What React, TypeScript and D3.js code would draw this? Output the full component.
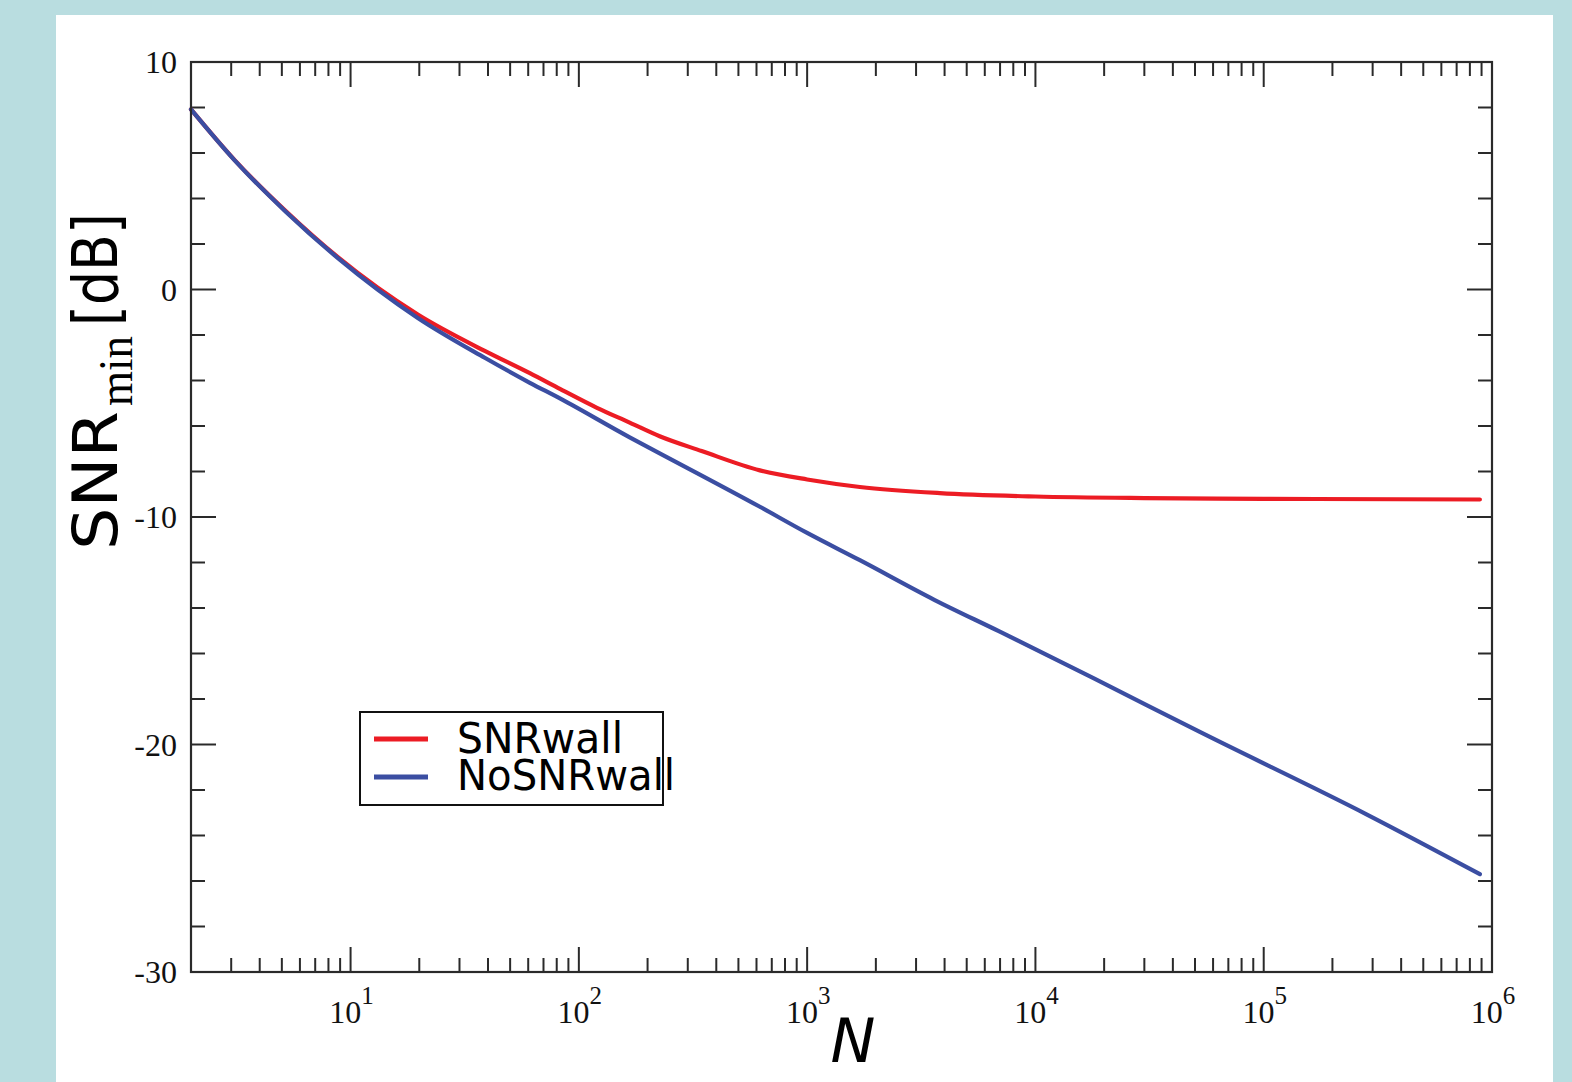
import { useRef, useEffect } from 'react';
import * as d3 from 'd3';

// values (N, SNR_min in dB)
const wallN = [2, 3.1, 5.2, 8.8, 19.7, 38.7, 61, 83, 120, 167, 226, 345, 621, 1000, 1702, 3810, 10000, 30000, 100000, 885000];
const wallDb = [7.92, 5.7, 3.45, 1.42, -1.1, -2.7, -3.68, -4.38, -5.2, -5.85, -6.45, -7.1, -7.95, -8.35, -8.68, -8.95, -9.1, -9.17, -9.2, -9.23];

const noWallN = [2, 3.1, 5.2, 8.8, 19.7, 38.7, 61, 83, 167, 226, 621, 1000, 1702, 3622, 6984, 17950, 52500, 282000, 885000];
const noWallDb = [7.92, 5.69, 3.42, 1.38, -1.25, -3.0, -4.1, -4.8, -6.5, -7.2, -9.55, -10.7, -11.9, -13.65, -15.04, -17.08, -19.45, -23.07, -25.7];

const seriesNames = ['SNRwall', 'NoSNRwall'];
const seriesColors = ['#ec1c24', '#3b4ea2'];

const yMajor = [-30, -20, -10, 0, 10];
const xExponents = [1, 2, 3, 4, 5, 6];

const W = 1572;
const H = 1082;

const App = () => {
    const svgRef = useRef<SVGSVGElement | null>(null);

    useEffect(() => {
        const svg = d3.select(svgRef.current);
        svg.selectAll('*').remove();

        const left = 191, right = 1492, top = 62, bottom = 972;
        const x = d3.scaleLog().domain([2, 1e6]).range([left, right]);
        const y = d3.scaleLinear().domain([-30, 10]).range([bottom, top]);

        // page background + white panel
        svg.append('rect').attr('width', W).attr('height', H).attr('fill', '#b9dde0');
        svg.append('rect').attr('x', 56).attr('y', 15).attr('width', 1497).attr('height', H - 15).attr('fill', '#fff');

        const ink = '#2a2a2a';

        // ticks (inward, on all four sides)
        const ticks = svg.append('g').attr('stroke', ink).attr('stroke-width', 2);
        const minorX: number[] = [];
        for (let d = 0; d < 6; d++) {
            for (let k = 2; k <= 9; k++) {
                const v = k * Math.pow(10, d);
                if (v > 2 && v < 1e6) minorX.push(v);
            }
        }
        const majorX = xExponents.map(e => Math.pow(10, e));
        minorX.forEach(v => {
            ticks.append('line').attr('x1', x(v)).attr('x2', x(v)).attr('y1', bottom).attr('y2', bottom - 14);
            ticks.append('line').attr('x1', x(v)).attr('x2', x(v)).attr('y1', top).attr('y2', top + 14);
        });
        majorX.forEach(v => {
            ticks.append('line').attr('x1', x(v)).attr('x2', x(v)).attr('y1', bottom).attr('y2', bottom - 25);
            ticks.append('line').attr('x1', x(v)).attr('x2', x(v)).attr('y1', top).attr('y2', top + 25);
        });
        d3.range(-30, 10.1, 2).forEach(v => {
            const len = v % 10 === 0 ? 25 : 14;
            ticks.append('line').attr('x1', left).attr('x2', left + len).attr('y1', y(v)).attr('y2', y(v));
            ticks.append('line').attr('x1', right).attr('x2', right - len).attr('y1', y(v)).attr('y2', y(v));
        });

        // curves
        const line = d3.line<[number, number]>()
            .x(d => x(d[0]))
            .y(d => y(d[1]))
            .curve(d3.curveMonotoneX);
        const sets: [number, number][][] = [
            wallN.map((n, i) => [n, wallDb[i]]),
            noWallN.map((n, i) => [n, noWallDb[i]]),
        ];
        sets.forEach((pts, i) => {
            svg.append('path')
                .attr('d', line(pts))
                .attr('fill', 'none')
                .attr('stroke', seriesColors[i])
                .attr('stroke-width', 4.2)
                .attr('stroke-linecap', 'round')
                .attr('stroke-linejoin', 'round');
        });

        // frame
        svg.append('rect')
            .attr('x', left).attr('y', top)
            .attr('width', right - left).attr('height', bottom - top)
            .attr('fill', 'none').attr('stroke', ink).attr('stroke-width', 2.2);

        // y tick labels
        yMajor.forEach(v => {
            svg.append('text')
                .attr('x', 177).attr('y', y(v) + 11)
                .attr('text-anchor', 'end')
                .attr('font-family', 'Liberation Serif, serif')
                .attr('font-size', 32)
                .attr('fill', '#111')
                .text(String(v));
        });

        // x tick labels 10^e
        xExponents.forEach(e => {
            const t = svg.append('text')
                .attr('x', x(Math.pow(10, e)) + 1).attr('y', 1023)
                .attr('text-anchor', 'middle')
                .attr('font-family', 'Liberation Serif, serif')
                .attr('font-size', 32)
                .attr('fill', '#111');
            t.append('tspan').text('10');
            t.append('tspan').attr('dy', -19).attr('font-size', 25).text(String(e));
        });

        // x title
        svg.append('text')
            .attr('x', 853).attr('y', 1062)
            .attr('text-anchor', 'middle')
            .attr('font-family', 'DejaVu Sans, sans-serif')
            .attr('font-style', 'italic')
            .attr('font-size', 60)
            .attr('fill', '#000')
            .text('N');

        // y title, rotated
        const yt = svg.append('g').attr('transform', 'translate(117, 550) rotate(-90) scale(1, 0.88)');
        yt.append('text')
            .attr('x', 0).attr('y', 0)
            .attr('font-family', 'DejaVu Sans, sans-serif')
            .attr('font-size', 70)
            .attr('textLength', 139).attr('lengthAdjust', 'spacingAndGlyphs')
            .text('SNR');
        yt.append('text')
            .attr('x', 144).attr('y', 17)
            .attr('font-family', 'Liberation Serif, serif')
            .attr('font-size', 54)
            .attr('textLength', 70).attr('lengthAdjust', 'spacingAndGlyphs')
            .text('min');
        yt.append('text')
            .attr('x', 224).attr('y', 0)
            .attr('font-family', 'DejaVu Sans, sans-serif')
            .attr('font-size', 70)
            .attr('textLength', 113).attr('lengthAdjust', 'spacingAndGlyphs')
            .text('[dB]');

        // legend
        const lg = svg.append('g');
        lg.append('rect')
            .attr('x', 360).attr('y', 712).attr('width', 303).attr('height', 93)
            .attr('fill', '#fff').attr('stroke', '#111').attr('stroke-width', 2);
        const rows = [{ ly: 739, ty: 753, len: 166 }, { ly: 777, ty: 790, len: 218 }];
        seriesNames.forEach((name, i) => {
            lg.append('line')
                .attr('x1', 374).attr('x2', 428)
                .attr('y1', rows[i].ly).attr('y2', rows[i].ly)
                .attr('stroke', seriesColors[i]).attr('stroke-width', 5);
            lg.append('text')
                .attr('x', 457).attr('y', rows[i].ty)
                .attr('font-family', 'DejaVu Sans, sans-serif')
                .attr('font-size', 43)
                .attr('textLength', rows[i].len).attr('lengthAdjust', 'spacingAndGlyphs')
                .attr('fill', '#000')
                .text(name);
        });
    }, []);

    return (
        <div style={{ position: 'fixed', left: 0, top: 0 }}>
            <svg ref={svgRef} width={W} height={H} style={{ display: 'block' }} />
        </div>
    );
};

export default App;
